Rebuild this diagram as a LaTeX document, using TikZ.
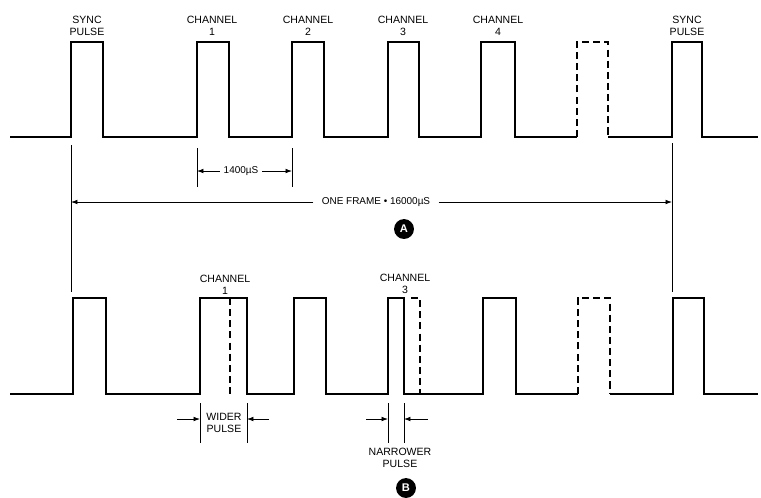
\documentclass[tikz,border=0pt]{standalone}
\usepackage{fontspec}
\setmainfont{Liberation Sans}
\usetikzlibrary{arrows,arrows.meta,positioning}

\begin{document}
\begin{tikzpicture}[x=0.03cm,y=-0.03cm,>={Latex[length=5.5pt,width=4pt]},
  wave/.style={line width=1.8pt,line join=miter},
  ghost/.style={wave,dash pattern=on 6pt off 3.5pt},
  ext/.style={line width=0.7pt},
  dim/.style={->,line width=0.7pt},
  lbl/.style={align=center,inner sep=0pt,font=\fontsize{9}{10}\selectfont},
  dimtext/.style={inner sep=3pt,font=\fontsize{8.5}{9}\selectfont},
  tag/.style={circle,fill=black,text=white,inner sep=0pt,minimum size=17pt,font=\bfseries\fontsize{9.5}{9.5}\selectfont}]

  \useasboundingbox (0,0) rectangle (761,497);

  % Frame A
  \node[lbl] (syncA) at (87,26) {SYNC\\PULSE};
  \node[lbl] (ch1A) at (212,26) {CHANNEL\\1};
  \node[lbl] (ch2A) at (308,26) {CHANNEL\\2};
  \node[lbl] (ch3A) at (403,26) {CHANNEL\\3};
  \node[lbl] (ch4A) at (498,26) {CHANNEL\\4};
  \node[lbl] (syncAr) at (687,26) {SYNC\\PULSE};

  \draw[wave] (10,137) -| (71,42) -| (103,137) -| (197,42) -| (229,137)
    -| (292,42) -| (324,137) -| (388,42) -| (419,137) -| (481,42) -| (515,137) -- (577,137);
  \draw[ghost] (577,137) |- (608,42) -- (608,137);
  \draw[wave] (608,137) -| (672,42) -| (702,137) -- (758,137);

  % 1400 uS spacing
  \coordinate (c1top) at (197,148);
  \coordinate (c1bot) at (197,187);
  \coordinate (c2top) at (292,148);
  \coordinate (c2bot) at (292,187);
  \draw[ext] (c1top) -- (c1bot);
  \draw[ext] (c2top) -- (c2bot);
  \node[dimtext] (gap) at (241,171) {1400µS};
  \draw[dim] (gap) -- (gap -| c1top);
  \draw[dim] (gap) -- (gap -| c2top);

  % One frame
  \coordinate (s1top) at (71,145);
  \coordinate (s1bot) at (71,292);
  \coordinate (s2top) at (672,143);
  \coordinate (s2bot) at (672,292);
  \draw[ext] (s1top) -- (s1bot);
  \draw[ext] (s2top) -- (s2bot);
  \node[dimtext,inner sep=7pt] (frame) at (376,202) {ONE FRAME • 16000µS};
  \draw[dim] (frame) -- (frame -| s1top);
  \draw[dim] (frame) -- (frame -| s2top);

  \node[tag] (tagA) at (404,229) {A};

  % Frame B
  \node[lbl] (ch1B) at (225,285) {CHANNEL\\1};
  \node[lbl] (ch3B) at (405,284) {CHANNEL\\3};

  \draw[wave] (10,394) -| (73,298) -| (106,394) -| (200,298) -| (247,394)
    -| (294,298) -| (326,394) -| (388,298) -| (404,394) -| (483,298) -| (516,394) -- (578,394);
  \draw[ghost] (578,394) |- (610,298) -- (610,394);
  \draw[wave] (610,394) -| (673,298) -| (704,394) -- (758,394);
  \draw[ghost] (230,298) -- (230,394);
  \draw[ghost] (411,298) -| (420,394);

  % Wider pulse
  \coordinate (w1top) at (200,403);
  \coordinate (w1bot) at (200,443);
  \coordinate (w2top) at (247,403);
  \coordinate (w2bot) at (247,443);
  \draw[ext] (w1top) -- (w1bot);
  \draw[ext] (w2top) -- (w2bot);
  \node[lbl] (wider) at (224,423) {WIDER\\PULSE};
  \coordinate (wl) at (177,419);
  \coordinate (wr) at (269,419);
  \draw[dim] (wl) -- (wl -| w1top);
  \draw[dim] (wr) -- (wr -| w2top);

  % Narrower pulse
  \coordinate (n1top) at (388,403);
  \coordinate (n1bot) at (388,443);
  \coordinate (n2top) at (404,403);
  \coordinate (n2bot) at (404,443);
  \draw[ext] (n1top) -- (n1bot);
  \draw[ext] (n2top) -- (n2bot);
  \node[lbl] (narrower) at (400,458) {NARROWER\\PULSE};
  \coordinate (nl) at (366,419);
  \coordinate (nr) at (428,419);
  \draw[dim] (nl) -- (nl -| n1top);
  \draw[dim] (nr) -- (nr -| n2top);

  \node[tag] (tagB) at (406,488) {B};
\end{tikzpicture}
\end{document}
